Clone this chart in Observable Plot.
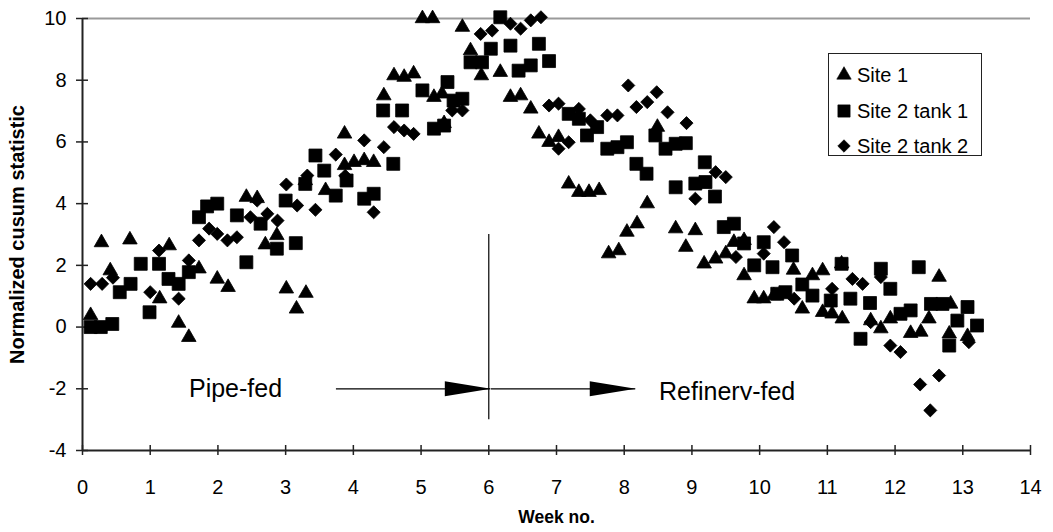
<!DOCTYPE html>
<html><head><meta charset="utf-8">
<script src="https://cdn.jsdelivr.net/npm/d3@7"></script>
<script src="https://cdn.jsdelivr.net/npm/@observablehq/plot@0.6"></script>
<style>
body{margin:0;background:#fff;}
#wrap{position:relative;width:1053px;height:532px;font-family:Arial,"Liberation Sans",sans-serif;}
#legend{position:absolute;left:828px;top:53px;width:154px;height:103px;border:1px solid #222;background:#fff;box-sizing:border-box;}
.row{position:absolute;left:6px;height:30px;display:flex;align-items:center;font-size:20px;color:#000;white-space:nowrap;}
.row svg{margin-right:4px;}
</style></head><body><div id="wrap"></div>
<script>
// ---- data ----
const seriesNames = ["Site 1", "Site 2 tank 1", "Site 2 tank 2"];
const site1Week = [0.12,0.28,0.41,0.70,1.14,1.28,1.42,1.57,1.72,1.99,2.15,2.42,2.58,2.70,2.87,3.01,3.16,3.29,3.30,3.59,3.87,3.87,4.01,4.16,4.30,4.45,4.60,4.75,4.89,5.02,5.17,5.19,5.31,5.34,5.61,5.73,5.89,6.17,6.32,6.47,6.62,6.74,6.89,7.03,7.18,7.33,7.48,7.63,7.77,7.92,8.04,8.19,8.34,8.49,8.76,8.91,9.05,9.18,9.35,9.50,9.62,9.77,9.77,9.92,10.06,10.21,10.50,10.63,10.78,10.93,10.93,11.07,11.21,11.22,11.64,11.79,11.93,12.23,12.38,12.50,12.65,12.80,12.82,13.07];
const site1Value = [0.38,2.74,1.83,2.83,0.92,2.64,0.13,-0.33,1.89,1.56,1.29,4.21,4.17,2.67,2.97,1.24,0.59,4.75,1.10,4.43,6.26,5.24,5.34,5.40,5.34,7.50,8.15,8.10,8.21,10.0,10.0,7.45,7.56,6.6,9.72,8.96,8.15,8.26,7.45,7.50,7.07,6.26,5.99,6.15,4.64,4.37,4.37,4.43,2.38,2.48,3.08,3.35,4.0,6.48,3.19,2.59,3.13,2.05,2.21,2.38,2.75,2.81,1.67,0.92,0.92,1.02,1.85,0.59,1.67,1.83,0.48,0.43,2.05,0.27,0.21,-0.05,0.27,-0.2,-0.16,0.27,1.62,-0.22,0.75,-0.3];
const tank1Week = [0.12,0.27,0.44,0.55,0.71,0.86,0.99,1.13,1.27,1.42,1.57,1.72,1.84,1.99,2.28,2.42,2.63,2.87,3.00,3.15,3.29,3.44,3.57,3.74,3.90,4.16,4.30,4.44,4.59,4.72,5.02,5.19,5.34,5.39,5.48,5.61,5.73,5.90,6.03,6.17,6.32,6.44,6.62,6.74,6.89,7.18,7.33,7.45,7.60,7.75,7.90,8.04,8.18,8.33,8.46,8.61,8.76,8.76,8.91,9.05,9.19,9.20,9.34,9.47,9.62,9.77,9.92,10.06,10.19,10.26,10.38,10.48,10.63,10.78,11.05,11.21,11.34,11.49,11.63,11.79,11.93,12.08,12.23,12.35,12.53,12.70,12.80,12.92,13.07,13.21];
const tank1Value = [0.0,0.0,0.1,1.13,1.40,2.05,0.48,2.05,1.56,1.40,1.78,3.56,3.91,4.0,3.62,2.10,3.35,2.54,4.10,2.72,4.64,5.56,5.07,4.26,4.75,4.16,4.32,7.02,5.29,7.02,7.67,6.43,6.53,7.94,7.34,7.40,8.58,8.58,9.02,10.04,9.12,8.31,8.48,9.18,8.62,6.91,6.75,6.21,6.48,5.78,5.83,5.99,5.29,4.97,6.21,5.78,5.94,4.53,5.96,4.65,5.34,4.70,4.23,3.24,3.35,2.71,2.0,2.75,1.94,1.08,1.13,2.32,1.38,1.02,0.86,2.05,0.92,-0.38,0.78,1.89,1.24,0.43,0.54,1.94,0.75,0.75,-0.6,0.21,0.65,0.05];
const tank2Week = [0.12,0.29,0.45,1.00,1.13,1.42,1.57,1.72,1.87,1.99,2.14,2.28,2.48,2.58,2.73,2.88,3.01,3.17,3.32,3.44,3.74,3.88,4.16,4.30,4.45,4.60,4.75,4.89,5.46,5.61,5.88,6.05,6.32,6.47,6.62,6.77,6.89,7.03,7.03,7.18,7.33,7.50,7.75,7.90,8.06,8.18,8.34,8.48,8.64,8.92,9.05,9.35,9.50,9.65,10.06,10.21,10.36,10.51,11.07,11.37,11.52,11.64,11.79,11.93,12.08,12.37,12.52,12.65,13.09];
const tank2Value = [1.40,1.40,1.6,1.13,2.48,0.92,2.16,2.81,3.19,3.02,2.81,2.91,3.56,4.10,3.67,3.45,4.62,3.94,4.91,3.80,5.59,4.9,6.05,3.72,5.83,6.48,6.37,6.26,7.02,7.02,9.50,9.61,9.83,9.67,9.94,10.04,7.18,7.24,5.78,5.99,7.07,6.70,6.86,6.86,7.83,7.13,7.29,7.61,6.96,6.61,4.16,5.02,4.86,2.27,2.38,3.24,2.75,0.92,1.24,1.56,1.40,0.16,1.62,-0.60,-0.81,-1.86,-2.70,-1.57,-0.49];
const xTicks = [0,1,2,3,4,5,6,7,8,9,10,11,12,13,14];
const yTicks = [-4,-2,0,2,4,6,8,10];
const phaseLabels = ["Pipe-fed", "Refinery-fed"];
const phaseLabelWeek = [2.26, 9.52];
const phaseLabelValue = [-2, -2.12];
const arrowFrom = [3.75, 6.04];
const arrowTo = [6.03, 8.17];
const arrowValue = [-2, -2];
const changeWeek = [6];
const changeLow = [-3], changeHigh = [3];

// ---- build tables ----
const zip = (w, v) => w.map((x, i) => ({x, y: v[i]}));
const site1 = zip(site1Week, site1Value);
const tank1 = zip(tank1Week, tank1Value);
const tank2 = zip(tank2Week, tank2Value);
const labels = phaseLabels.map((t, i) => ({t, x: phaseLabelWeek[i], y: phaseLabelValue[i]}));
const arrows = arrowFrom.map((x1, i) => ({x1, x2: arrowTo[i], y: arrowValue[i]}));
const changes = changeWeek.map((x, i) => ({x, y1: changeLow[i], y2: changeHigh[i]}));
const yMin = yTicks[0], yMax = yTicks[yTicks.length - 1];
const xMin = xTicks[0], xMax = xTicks[xTicks.length - 1];

const arrowHead = {
  draw(ctx) { const L = 46, h = 7.5; ctx.moveTo(0, 0); ctx.lineTo(-L, -h); ctx.lineTo(-L, h); ctx.closePath(); }
};

const font = 'Arial, "Liberation Sans", sans-serif';
const chart = Plot.plot({
  width: 1053, height: 532,
  marginLeft: 82, marginRight: 23, marginTop: 18, marginBottom: 82,
  x: {domain: [xMin, xMax]},
  y: {domain: [yMin, yMax]},
  style: {fontFamily: font, background: "#fff", color: "#000", overflow: "visible"},
  marks: [
    Plot.ruleY([yMax], {stroke: "#9a9a9a", strokeWidth: 2}),
    Plot.axisX({ticks: xTicks, tickSize: 0, tickPadding: 29, fontSize: 20, label: null, tickFormat: d => String(d)}),
    Plot.axisY({ticks: yTicks, tickSize: 0, tickPadding: 16, fontSize: 20, label: null, tickFormat: d => String(d).replace("−", "-")}),
    Plot.ruleX(xTicks, {x: d => d, y1: yMin, y2: yMin, insetTop: -5, insetBottom: -5, stroke: "#222", strokeWidth: 1.5}),
    Plot.ruleY(yTicks, {y: d => d, x1: xMin, x2: xMin, insetLeft: -6, insetRight: -6, stroke: "#222", strokeWidth: 1.5}),
    Plot.ruleX([xMin], {stroke: "#222", strokeWidth: 2}),
    Plot.ruleY([yMin], {stroke: "#222", strokeWidth: 2}),
    Plot.ruleX(changes, {x: "x", y1: "y1", y2: "y2", stroke: "#000", strokeWidth: 1.2}),
    Plot.ruleY(arrows, {y: "y", x1: "x1", x2: "x2", stroke: "#000", strokeWidth: 1.2}),
    Plot.dot(arrows, {x: "x2", y: "y", symbol: arrowHead, fill: "#000", stroke: "none", r: 1}),
    Plot.text(labels, {x: "x", y: "y", text: "t", fontSize: 25, fill: "#000"}),
    Plot.dot(site1, {x: "x", y: "y", symbol: "triangle", r: 5.4, fill: "#000", stroke: "#000", strokeWidth: 0.8, strokeLinejoin: "round"}),
    Plot.dot(tank1, {x: "x", y: "y", symbol: "square", r: 7.3, fill: "#000", stroke: "#000", strokeWidth: 0.8, strokeLinejoin: "round"}),
    Plot.dot(tank2, {x: "x", y: "y", symbol: "diamond2", r: 5.9, fill: "#000", stroke: "#000", strokeWidth: 0.8, strokeLinejoin: "round"}),
    Plot.text(["Normalized cusum statistic"], {frameAnchor: "left", textAnchor: "middle", rotate: -90, dx: -65, fontSize: 20, fontWeight: "bold", fill: "#000"}),
    Plot.text(["Week no."], {frameAnchor: "bottom", dy: 72, fontSize: 17.5, fontWeight: "bold", fill: "#000"})
  ]
});
const wrap = document.getElementById("wrap");
wrap.appendChild(chart);

// clip the bottom of the "Refinery-fed" label (descenders cut, as in the original)
const svgNS = "http://www.w3.org/2000/svg";
const svg = chart.tagName.toLowerCase() === "svg" ? chart : chart.querySelector("svg");
svg.querySelectorAll("text").forEach(t => {
  if (t.textContent !== phaseLabels[1]) return;
  const b = t.getBBox();
  let defs = svg.querySelector("defs");
  if (!defs) { defs = document.createElementNS(svgNS, "defs"); svg.insertBefore(defs, svg.firstChild); }
  const cp = document.createElementNS(svgNS, "clipPath");
  cp.setAttribute("id", "refclip");
  cp.setAttribute("clipPathUnits", "userSpaceOnUse");
  const r = document.createElementNS(svgNS, "rect");
  r.setAttribute("x", b.x - 2); r.setAttribute("y", b.y - 2);
  r.setAttribute("width", b.width + 4); r.setAttribute("height", b.height * 0.8 + 2);
  cp.appendChild(r); defs.appendChild(cp);
  t.setAttribute("clip-path", "url(#refclip)");
});

// legend
const legend = document.createElement("div");
legend.id = "legend";
const legendSymbols = [[d3.symbolTriangle, 90], [d3.symbolSquare, 150], [d3.symbolDiamond2, 100]];
const rowTops = [6, 42, 77];
seriesNames.forEach((name, i) => {
  const row = document.createElement("div");
  row.className = "row";
  row.style.top = rowTops[i] + "px";
  const [type, size] = legendSymbols[i];
  const path = d3.symbol().type(type).size(size)();
  row.innerHTML = `<svg width="18" height="18" viewBox="-9 -9 18 18"><path d="${path}" fill="#000" stroke="#000" stroke-width="0.6" stroke-linejoin="round"/></svg><span>${name}</span>`;
  legend.appendChild(row);
});
wrap.appendChild(legend);
</script>
</body></html>
